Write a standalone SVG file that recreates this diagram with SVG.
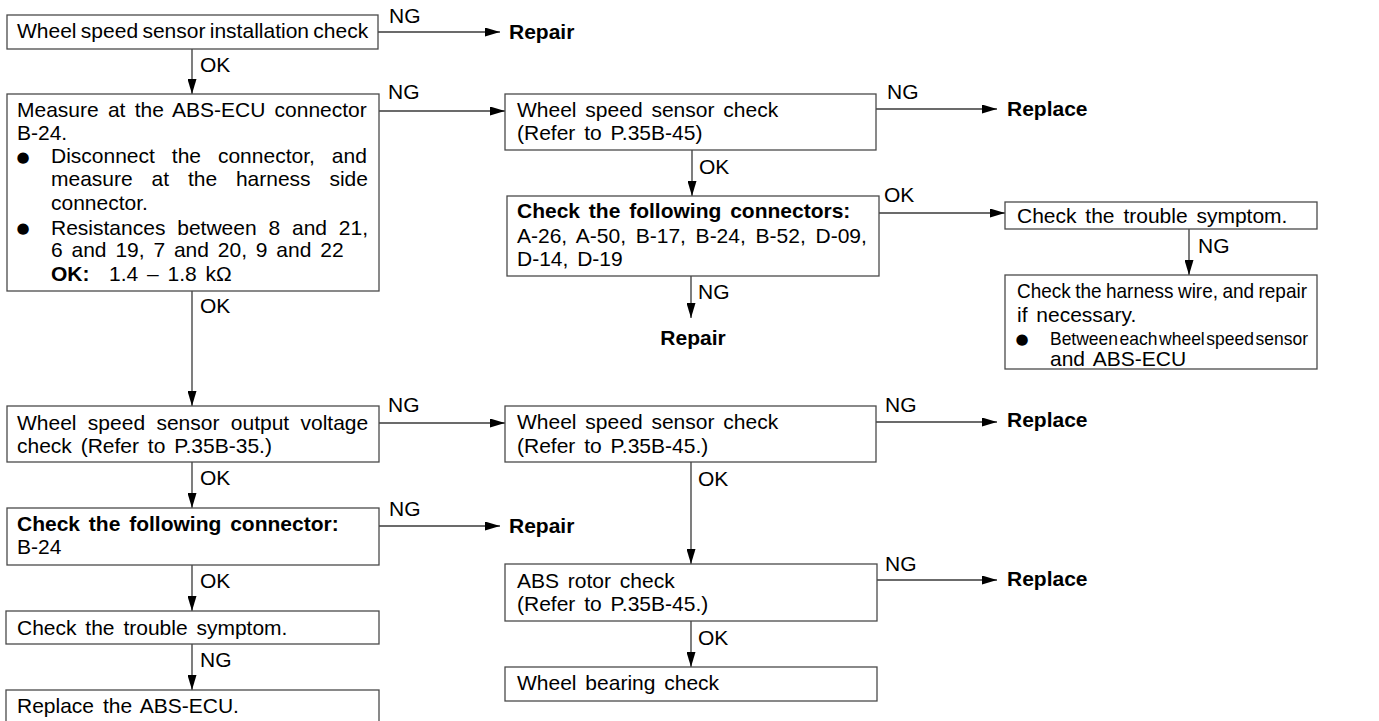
<svg xmlns="http://www.w3.org/2000/svg" width="1379" height="721" viewBox="0 0 1379 721">
<defs>
<style>
.bx{fill:#fff;stroke:#4a4a4a;stroke-width:1.3}
.t{font-family:"Liberation Sans",Arial,Helvetica,sans-serif;font-size:21px;fill:#000;word-spacing:3px}
.b{font-weight:bold}
.c{fill:none;stroke:#3a3a3a;stroke-width:1.3;marker-end:url(#ah)}
.bul{font-family:"DejaVu Sans",sans-serif;font-size:15px;fill:#000;text-anchor:middle}
</style>
<marker id="ah" markerUnits="userSpaceOnUse" markerWidth="16" markerHeight="9" refX="15" refY="4.5" orient="auto"><path d="M0,0 L15,4.5 L0,9 Z" fill="#000"/></marker>
</defs>
<rect width="1379" height="721" fill="#fff"/>

<g id="connectors">
<line class="c" x1="192" y1="49" x2="192" y2="94"/><text class="t" x="200" y="72">OK</text>
<line class="c" x1="378" y1="32" x2="500" y2="32"/><text class="t" x="389" y="23">NG</text>
<line class="c" x1="379" y1="111" x2="505" y2="111"/><text class="t" x="388" y="99">NG</text>
<line class="c" x1="876" y1="109" x2="997" y2="109"/><text class="t" x="887" y="99">NG</text>
<line class="c" x1="692" y1="150" x2="692" y2="196"/><text class="t" x="699" y="174">OK</text>
<line class="c" x1="691" y1="276" x2="691" y2="318"/><text class="t" x="698" y="299">NG</text>
<line class="c" x1="879" y1="213" x2="1005" y2="213"/><text class="t" x="884" y="202">OK</text>
<line class="c" x1="1189" y1="229" x2="1189" y2="275"/><text class="t" x="1198" y="253">NG</text>
<line class="c" x1="192" y1="291" x2="192" y2="406"/><text class="t" x="200" y="313">OK</text>
<line class="c" x1="379" y1="423" x2="505" y2="423"/><text class="t" x="388" y="412">NG</text>
<line class="c" x1="876" y1="422" x2="997" y2="422"/><text class="t" x="885" y="412">NG</text>
<line class="c" x1="192" y1="462" x2="192" y2="508"/><text class="t" x="200" y="485">OK</text>
<line class="c" x1="379" y1="526" x2="500" y2="526"/><text class="t" x="389" y="516">NG</text>
<line class="c" x1="691" y1="462" x2="691" y2="564"/><text class="t" x="698" y="486">OK</text>
<line class="c" x1="877" y1="580" x2="997" y2="580"/><text class="t" x="885" y="571">NG</text>
<line class="c" x1="192" y1="565" x2="192" y2="611"/><text class="t" x="200" y="588">OK</text>
<line class="c" x1="691" y1="621" x2="691" y2="667"/><text class="t" x="698" y="645">OK</text>
<line class="c" x1="192" y1="644" x2="192" y2="690"/><text class="t" x="200" y="667">NG</text>
</g>

<g id="n1"><rect class="bx" x="7" y="15" width="371" height="34"/>
<text class="t" x="17" y="38" style="word-spacing:-1.5px">Wheel speed sensor installation check</text></g>

<g id="n2"><rect class="bx" x="7" y="94" width="372" height="197"/>
<text class="t" x="17" y="117" style="word-spacing:3.4px">Measure at the ABS-ECU connector</text>
<text class="t" x="17" y="139.5">B-24.</text>
<text class="bul" x="23" y="162">●</text>
<text class="t" x="51" y="163" style="word-spacing:11.1px">Disconnect the connector, and</text>
<text class="t" x="51" y="186" style="word-spacing:13px">measure at the harness side</text>
<text class="t" x="51" y="210">connector.</text>
<text class="bul" x="23" y="233">●</text>
<text class="t" x="51" y="235" style="word-spacing:6px">Resistances between 8 and 21,</text>
<text class="t" x="51" y="257">6 and 19, 7 and 20, 9 and 22</text>
<text class="t" x="51" y="281"><tspan class="b">OK:</tspan><tspan x="109">1.4 – 1.8 kΩ</tspan></text></g>

<g id="n3"><rect class="bx" x="505" y="94" width="371" height="56"/>
<text class="t" x="517" y="117">Wheel speed sensor check</text>
<text class="t" x="517" y="140">(Refer to P.35B-45)</text></g>

<g id="n4"><rect class="bx" x="507" y="196" width="372" height="80"/>
<text class="t b" x="517" y="218">Check the following connectors:</text>
<text class="t" x="517" y="243" style="word-spacing:3.9px">A-26, A-50, B-17, B-24, B-52, D-09,</text>
<text class="t" x="517" y="266">D-14, D-19</text></g>

<g id="n5"><rect class="bx" x="1005" y="202" width="312" height="27"/>
<text class="t" x="1017" y="223">Check the trouble symptom.</text></g>

<g id="n6"><rect class="bx" x="1005" y="275" width="312" height="94"/>
<text class="t" x="1017" y="298" style="word-spacing:-1px" textLength="290" lengthAdjust="spacingAndGlyphs">Check the harness wire, and repair</text>
<text class="t" x="1017" y="322">if necessary.</text>
<text class="bul" x="1022" y="344">●</text>
<text class="t" x="1050" y="345" style="font-size:19px;word-spacing:-3.5px" textLength="258" lengthAdjust="spacingAndGlyphs">Between each wheel speed sensor</text>
<text class="t" x="1050" y="366">and ABS-ECU</text></g>

<g id="n7"><rect class="bx" x="7" y="406" width="372" height="56"/>
<text class="t" x="17" y="430" style="word-spacing:5.5px">Wheel speed sensor output voltage</text>
<text class="t" x="17" y="453">check (Refer to P.35B-35.)</text></g>

<g id="n8"><rect class="bx" x="7" y="508" width="372" height="57"/>
<text class="t b" x="17" y="531">Check the following connector:</text>
<text class="t" x="17" y="554">B-24</text></g>

<g id="n9"><rect class="bx" x="6" y="611" width="373" height="33"/>
<text class="t" x="17" y="635">Check the trouble symptom.</text></g>

<g id="n10"><rect class="bx" x="6" y="690" width="373" height="45"/>
<text class="t" x="17" y="713">Replace the ABS-ECU.</text></g>

<g id="n11"><rect class="bx" x="505" y="406" width="371" height="56"/>
<text class="t" x="517" y="429">Wheel speed sensor check</text>
<text class="t" x="517" y="453">(Refer to P.35B-45.)</text></g>

<g id="n12"><rect class="bx" x="505" y="564" width="372" height="57"/>
<text class="t" x="517" y="588">ABS rotor check</text>
<text class="t" x="517" y="611">(Refer to P.35B-45.)</text></g>

<g id="n13"><rect class="bx" x="505" y="667" width="372" height="34"/>
<text class="t" x="517" y="690">Wheel bearing check</text></g>

<g id="r1"><text class="t b" x="509" y="39">Repair</text></g>
<g id="r2"><text class="t b" x="1007" y="116">Replace</text></g>
<g id="r3"><text class="t b" x="693" y="345" text-anchor="middle">Repair</text></g>
<g id="r4"><text class="t b" x="1007" y="427">Replace</text></g>
<g id="r5"><text class="t b" x="509" y="533">Repair</text></g>
<g id="r6"><text class="t b" x="1007" y="586">Replace</text></g>
</svg>
